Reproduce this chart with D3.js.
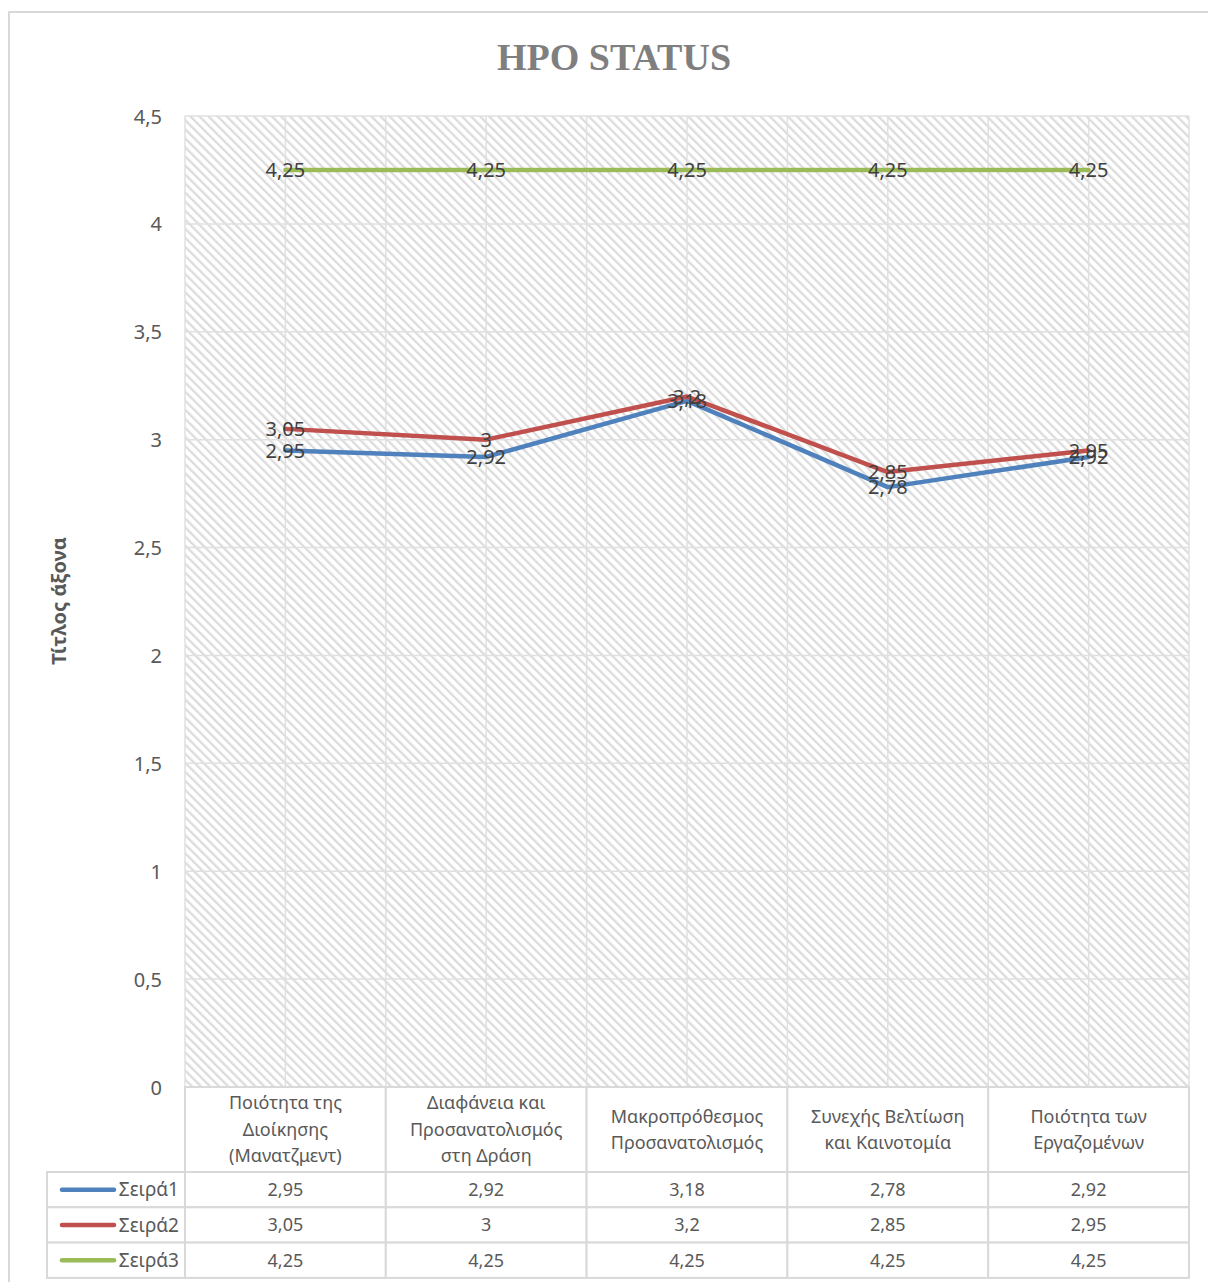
<!DOCTYPE html>
<html>
<head>
<meta charset="utf-8">
<script src="https://cdn.jsdelivr.net/npm/d3@7"></script>
<style>
  html, body { margin: 0; padding: 0; background: #fff; }
  svg { display: block; }
</style>
</head>
<body>
<svg id="chart" width="1208" height="1282"></svg>
<script>
// Categories (wrapped into lines for the data-table header)
const categories = [
  ["Ποιότητα της", "Διοίκησης", "(Μανατζμεντ)"],
  ["Διαφάνεια και", "Προσανατολισμός", "στη Δράση"],
  ["Μακροπρόθεσμος", "Προσανατολισμός"],
  ["Συνεχής Βελτίωση", "και Καινοτομία"],
  ["Ποιότητα των", "Εργαζομένων"]
];
const seriesNames = ["Σειρά1", "Σειρά2", "Σειρά3"];
const seira1 = [2.95, 2.92, 3.18, 2.78, 2.92];
const seira2 = [3.05, 3.00, 3.20, 2.85, 2.95];
const seira3 = [4.25, 4.25, 4.25, 4.25, 4.25];
const seriesColors = ["#4f81bd", "#c0504d", "#9bbb59"];
const yTicks = [0, 0.5, 1, 1.5, 2, 2.5, 3, 3.5, 4, 4.5];

const series = [seira1, seira2, seira3];
const fmt = v => String(v).replace(".", ",");
const FONT = "'Noto Sans', 'Open Sans', sans-serif";

const svg = d3.select("#chart");
const plot = { left: 185, right: 1189, top: 116, bottom: 1087 };

// Diagonal hatch used as the plot-area fill
const defs = svg.append("defs");
const pat = defs.append("pattern")
  .attr("id", "hatch")
  .attr("patternUnits", "userSpaceOnUse")
  .attr("width", 6.4).attr("height", 6.4)
  .attr("patternTransform", "rotate(-45)");
pat.append("rect").attr("width", 6.4).attr("height", 6.4).attr("fill", "#ffffff");
pat.append("rect").attr("width", 2.3).attr("height", 6.4).attr("fill", "#dcdcdc");

// Chart frame
svg.append("rect")
  .attr("x", 9).attr("y", 12).attr("width", 1220).attr("height", 1300)
  .attr("fill", "#fff").attr("stroke", "#d9d9d9").attr("stroke-width", 2);

const x = d3.scaleBand().domain(d3.range(categories.length)).range([plot.left, plot.right]);
const cx = i => x(i) + x.bandwidth() / 2;
const y = d3.scaleLinear().domain([0, 4.5]).range([plot.bottom, plot.top]);

// Plot area
svg.append("rect")
  .attr("x", plot.left).attr("y", plot.top)
  .attr("width", plot.right - plot.left).attr("height", plot.bottom - plot.top)
  .attr("fill", "url(#hatch)");

// Gridlines
const grid = svg.append("g").attr("stroke", "#e0e0e0").attr("stroke-width", 1.5);
grid.selectAll("line.h").data(yTicks).join("line")
  .attr("class", "h")
  .attr("x1", plot.left).attr("x2", plot.right)
  .attr("y1", d => y(d)).attr("y2", d => y(d));
const vx = [];
categories.forEach((c, i) => { vx.push(x(i)); vx.push(cx(i)); });
vx.push(plot.right);
grid.selectAll("line.v").data(vx).join("line")
  .attr("class", "v")
  .attr("x1", d => d).attr("x2", d => d)
  .attr("y1", plot.top).attr("y2", plot.bottom);

// Y axis (labels only)
const yAxis = d3.axisLeft(y).tickValues(yTicks).tickFormat(fmt).tickSize(0).tickPadding(0);
const gy = svg.append("g").attr("transform", `translate(${162},0)`).call(yAxis);
gy.select(".domain").remove();
gy.selectAll("text")
  .attr("font-family", FONT).attr("font-size", 20).attr("fill", "#595959")
  .attr("dy", "0.35em");

// Y axis title
svg.append("text")
  .attr("transform", "translate(66,601) rotate(-90)")
  .attr("text-anchor", "middle")
  .attr("font-family", FONT).attr("font-size", 20).attr("font-weight", "bold")
  .attr("fill", "#595959")
  .text("Τίτλος άξονα");

// Title
svg.append("text")
  .attr("x", 614).attr("y", 70)
  .attr("text-anchor", "middle")
  .attr("font-family", "'Liberation Serif', serif").attr("font-size", 38).attr("font-weight", "bold")
  .attr("fill", "#7f7f7f")
  .text("HPO STATUS");

// Lines
const line = d3.line().x((d, i) => cx(i)).y(d => y(d));
svg.append("g").selectAll("path").data(series).join("path")
  .attr("d", d => line(d))
  .attr("fill", "none")
  .attr("stroke", (d, i) => seriesColors[i])
  .attr("stroke-width", 4.5)
  .attr("stroke-linejoin", "round")
  .attr("stroke-linecap", "round");

// Data labels, centred on each point
const labels = svg.append("g")
  .attr("font-family", FONT).attr("font-size", 20).attr("fill", "#404040")
  .attr("text-anchor", "middle");
series.forEach(s => {
  labels.selectAll(null).data(s).join("text")
    .attr("x", (d, i) => cx(i))
    .attr("y", d => y(d))
    .attr("dy", "0.36em")
    .text(fmt);
});

// Data table
const tbl = svg.append("g");
const border = "#d9d9d9";
const headerTop = plot.bottom, headerBottom = 1172;
const rowH = 35.3;
const legendLeft = 47;

// header cells
categories.forEach((c, i) => {
  tbl.append("rect")
    .attr("x", x(i)).attr("y", headerTop)
    .attr("width", x.bandwidth()).attr("height", headerBottom - headerTop)
    .attr("fill", "#fff").attr("stroke", border).attr("stroke-width", 2);
  const lh = 26.5;
  const mid = (headerTop + headerBottom) / 2;
  const t = tbl.append("text")
    .attr("text-anchor", "middle")
    .attr("font-family", FONT).attr("font-size", 18).attr("fill", "#595959");
  c.forEach((ln, k) => {
    t.append("tspan")
      .attr("x", cx(i))
      .attr("y", mid + (k - (c.length - 1) / 2) * lh)
      .attr("dy", "0.35em")
      .text(ln);
  });
});

// value rows with legend keys
series.forEach((s, r) => {
  const top = headerBottom + r * rowH;
  tbl.append("rect")
    .attr("x", legendLeft).attr("y", top)
    .attr("width", plot.left - legendLeft).attr("height", rowH)
    .attr("fill", "#fff").attr("stroke", border).attr("stroke-width", 2);
  tbl.append("line")
    .attr("x1", 62).attr("x2", 114)
    .attr("y1", top + rowH / 2).attr("y2", top + rowH / 2)
    .attr("stroke", seriesColors[r]).attr("stroke-width", 4.5)
    .attr("stroke-linecap", "round");
  tbl.append("text")
    .attr("x", 179).attr("y", top + rowH / 2).attr("dy", "0.35em")
    .attr("text-anchor", "end")
    .attr("font-family", FONT).attr("font-size", 19).attr("fill", "#595959")
    .text(seriesNames[r]);
  s.forEach((v, i) => {
    tbl.append("rect")
      .attr("x", x(i)).attr("y", top)
      .attr("width", x.bandwidth()).attr("height", rowH)
      .attr("fill", "#fff").attr("stroke", border).attr("stroke-width", 2);
    tbl.append("text")
      .attr("x", cx(i)).attr("y", top + rowH / 2).attr("dy", "0.35em")
      .attr("text-anchor", "middle")
      .attr("font-family", FONT).attr("font-size", 18).attr("fill", "#595959")
      .text(fmt(v));
  });
});
</script>
</body>
</html>
